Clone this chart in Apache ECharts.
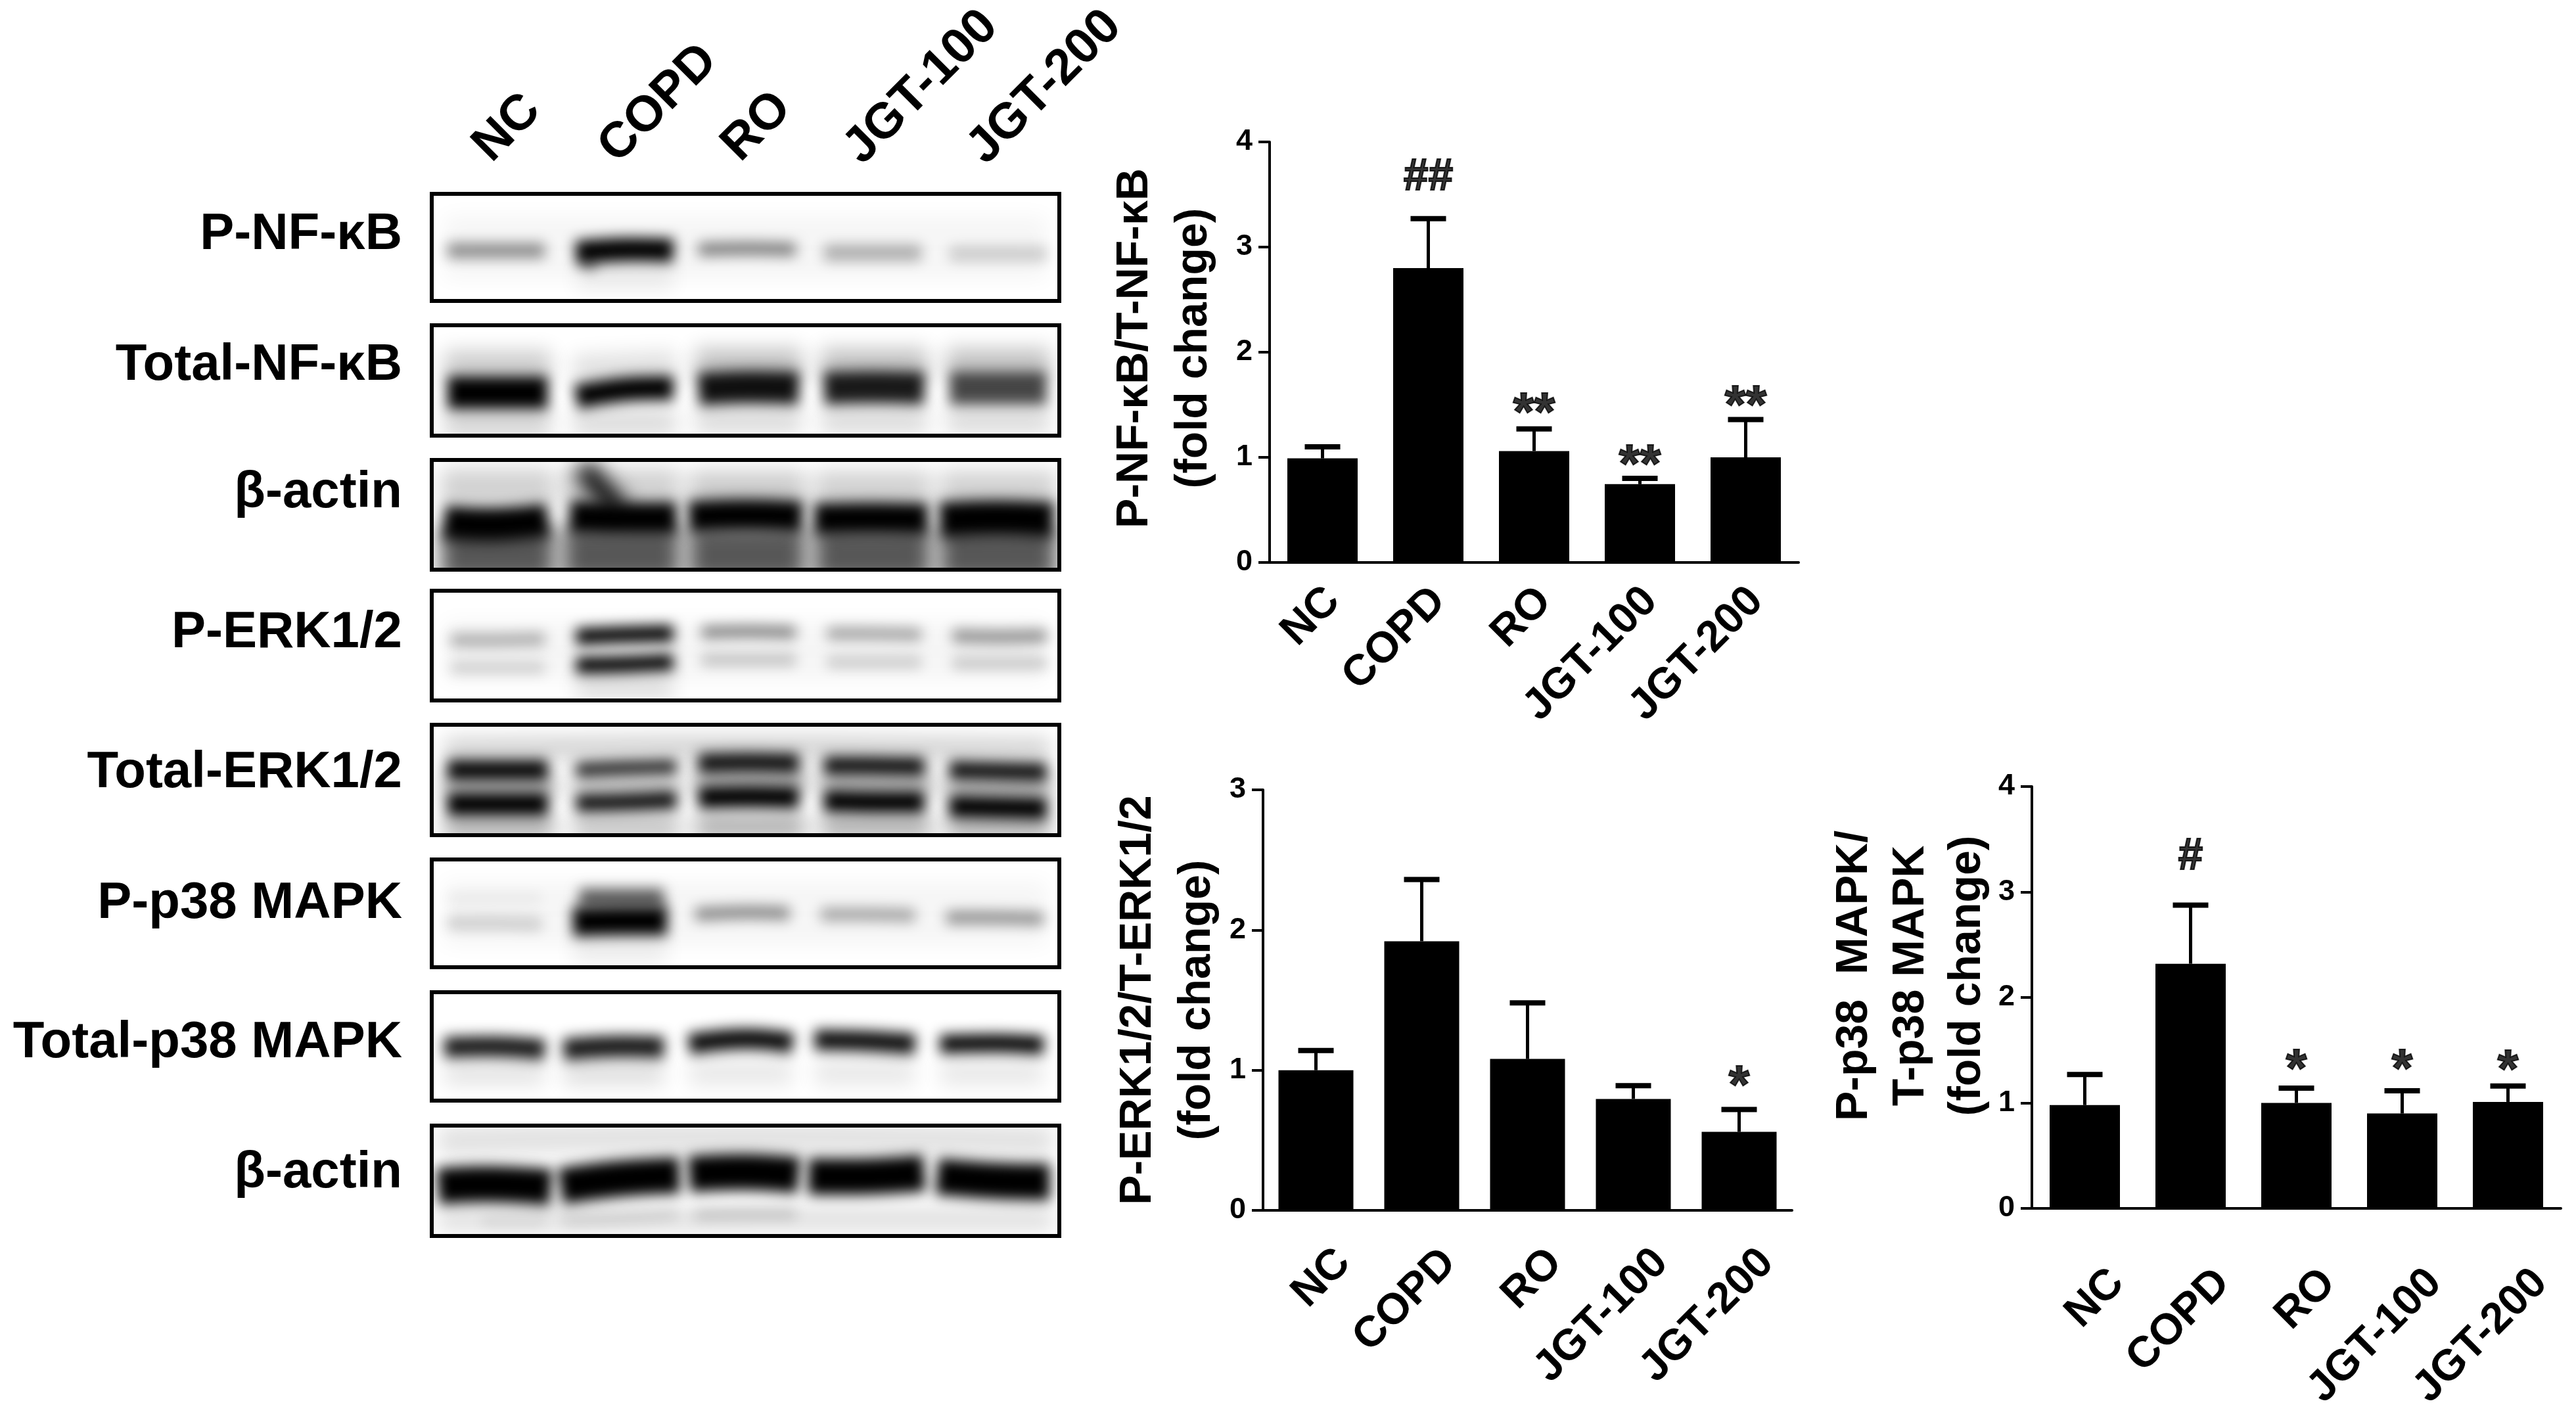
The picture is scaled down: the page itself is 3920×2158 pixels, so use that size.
<!DOCTYPE html>
<html>
<head>
<meta charset="utf-8">
<title>Western blot and fold change</title>
<style>
  html, body { margin: 0; padding: 0; background: #fff; }
  #main { width: 3920px; height: 2158px; }
</style>
<script src="https://cdn.jsdelivr.net/npm/echarts@6/dist/echarts.min.js"></script>
</head>
<body>
<div id="main"></div>
<script>
const groups = ['NC', 'COPD', 'RO', 'JGT-100', 'JGT-200'];

// bar charts: mean, top of the error bar, significance mark and its height
const nfkbMean = [0.99, 2.80, 1.06, 0.745, 1.00];
const nfkbTop = [1.10, 3.27, 1.27, 0.80, 1.36];
const nfkbMark = ['', '##', '**', '**', '**'];
const nfkbMarkY = [null, 3.66, 1.49, 1.00, 1.56];

const erkMean = [1.00, 1.92, 1.08, 0.795, 0.56];
const erkTop = [1.14, 2.36, 1.48, 0.89, 0.72];
const erkMark = ['', '', '', '', '*'];
const erkMarkY = [null, null, null, null, 0.94];

const p38Mean = [0.98, 2.32, 1.00, 0.90, 1.01];
const p38Top = [1.27, 2.875, 1.14, 1.115, 1.16];
const p38Mark = ['', '#', '*', '*', '*'];
const p38MarkY = [null, 3.33, 1.39, 1.39, 1.38];

// blot rows, bands are [density, thickness, x0, y0, x1, y1, x2, y2] on a 0-100 panel scale
const blotNames = ['P-NF-κB', 'Total-NF-κB', 'β-actin', 'P-ERK1/2', 'Total-ERK1/2', 'P-p38 MAPK', 'Total-p38 MAPK', 'β-actin'];

const bandsPNfkb = [
  [0.44, 14, 2.5, 53, 10, 53, 18, 53],
  [1.00, 22, 23, 55, 31, 52, 38.5, 53],
  [0.40, 12, 24, 60, 25, 64, 26, 68],
  [0.50, 12, 42.5, 52, 50, 51, 58, 52],
  [0.30, 15, 62.5, 55, 70, 55, 78, 55],
  [0.18, 14, 82.5, 56, 90, 56, 98, 56]
];
const hazePNfkb = [
  [0.07, 24, 23, 78, 31, 78, 38.5, 78],
  [0.04, 60, 2, 50, 50, 50, 98, 50]
];

const bandsTNfkb = [
  [1.00, 30, 2.5, 61, 10, 61, 18.5, 61],
  [1.00, 22, 23, 65, 31, 58, 38.5, 57],
  [0.94, 30, 42.5, 58, 50, 56, 58.5, 57],
  [0.90, 30, 62.5, 57, 70, 56, 78.5, 57],
  [0.72, 30, 82.5, 57, 90, 57, 98, 57]
];
const hazeTNfkb = [
  [0.20, 26, 2, 36, 10, 36, 19, 36], [0.12, 26, 22.5, 40, 31, 38, 39, 36],
  [0.24, 26, 42, 34, 50, 34, 59, 34], [0.24, 26, 62, 34, 70, 34, 79, 34], [0.24, 26, 82, 34, 90, 34, 98.5, 34],
  [0.18, 24, 2, 88, 10, 88, 19, 88], [0.14, 24, 22.5, 88, 31, 88, 39, 88],
  [0.14, 24, 42, 86, 50, 86, 59, 86], [0.14, 24, 62, 86, 70, 86, 79, 86], [0.14, 24, 82, 86, 90, 86, 98.5, 86]
];

const bandsActin1 = [
  [1.00, 31, 2, 57, 10, 59, 18.5, 55],
  [1.00, 30, 22, 52, 30, 53, 39, 53],
  [1.00, 29, 41, 52, 50, 50, 59, 52],
  [1.00, 29, 61, 54, 70, 53, 79, 54],
  [1.00, 33, 81, 55, 90, 53, 99, 55]
];
const hazeActin1 = [
  [0.66, 50, 1.5, 86, 10, 86, 19.5, 86], [0.66, 50, 21, 86, 30, 86, 39.5, 86],
  [0.66, 50, 41, 86, 50, 86, 59.5, 86], [0.66, 50, 61, 86, 70, 86, 79.5, 86], [0.66, 50, 81, 86, 90, 86, 99.5, 86],
  [0.18, 36, 1.5, 26, 10, 26, 19.5, 26], [0.18, 36, 21, 26, 30, 26, 39.5, 26],
  [0.20, 36, 41, 28, 50, 28, 59.5, 28], [0.18, 36, 61, 28, 70, 28, 79.5, 28], [0.18, 36, 81, 28, 90, 28, 99.5, 28],
  [0.95, 20, 24, 6, 26.5, 24, 30, 44]
];

const bandsPErk = [
  [0.30, 12, 3, 45, 10, 45, 18, 44],
  [0.17, 11, 3, 70, 10, 70, 18, 70],
  [1.00, 15, 23, 42, 31, 40, 38.5, 39],
  [1.00, 15, 23, 68, 31, 67, 38.5, 65],
  [0.48, 11, 43, 38, 50, 37, 58, 38],
  [0.24, 10, 43, 63, 50, 63, 58, 63],
  [0.36, 11, 63, 39, 70, 39, 78, 40],
  [0.20, 10, 63, 65, 70, 65, 78, 65],
  [0.42, 12, 83, 41, 90, 42, 98, 41],
  [0.22, 10, 83, 66, 90, 66, 98, 66]
];
const hazePErk = [
  [0.12, 24, 23, 88, 31, 88, 38.5, 88],
  [0.04, 55, 2, 55, 50, 55, 98, 55]
];

const bandsTErk = [
  [0.96, 19, 2.5, 41, 10, 41, 18.5, 41],
  [1.00, 21, 2.5, 72, 10, 72, 18.5, 72],
  [0.84, 13, 23, 41, 31, 39, 39, 38],
  [0.94, 16, 23, 71, 31, 70, 39, 68],
  [0.92, 18, 42.5, 35, 50, 34, 58.5, 35],
  [1.00, 20, 42.5, 66, 50, 65, 58.5, 66],
  [0.92, 17, 62.5, 37, 70, 37, 78.5, 38],
  [1.00, 20, 62.5, 69, 70, 70, 78.5, 70],
  [0.92, 17, 82.5, 41, 90, 42, 98, 43],
  [1.00, 20, 82.5, 74, 90, 75, 98, 76]
];
const hazeTErk = [
  [0.36, 20, 2, 56, 10, 56, 19.5, 56], [0.26, 20, 22.5, 55, 31, 55, 39.5, 55],
  [0.36, 20, 42, 50, 50, 50, 59.5, 50], [0.36, 20, 62, 53, 70, 53, 79.5, 53], [0.36, 20, 82, 58, 90, 58, 98.5, 58],
  [0.34, 20, 2, 92, 10, 92, 19.5, 92], [0.26, 20, 22.5, 92, 31, 92, 39.5, 92],
  [0.34, 20, 42, 92, 50, 92, 59.5, 92], [0.34, 20, 62, 92, 70, 92, 79.5, 92], [0.34, 20, 82, 92, 90, 92, 98.5, 92],
  [0.18, 20, 2, 22, 50, 20, 98.5, 22]
];

const bandsPP38 = [
  [0.18, 12, 2.5, 59, 10, 59, 17.5, 60],
  [0.06, 10, 2.5, 36, 10, 36, 17.5, 36],
  [1.00, 27, 22.5, 58, 30, 57, 37.5, 57],
  [0.62, 18, 23.5, 36, 30, 36, 37, 36],
  [0.46, 12, 42, 51, 50, 49, 57, 50],
  [0.34, 12, 62, 51, 70, 51, 77, 52],
  [0.42, 12, 82, 54, 90, 54, 97.5, 55]
];
const hazePP38 = [
  [0.08, 22, 22.5, 84, 30, 84, 37.5, 84],
  [0.04, 60, 2, 50, 50, 50, 98, 50]
];

const bandsTP38 = [
  [0.90, 19, 2, 51, 10, 50, 18, 53],
  [0.90, 20, 21, 53, 29, 50, 37, 51],
  [0.96, 19, 41, 48, 50, 43, 57.5, 47],
  [0.94, 19, 61, 44, 69, 45, 77, 48],
  [0.98, 17, 81, 48, 90, 47, 97.5, 49]
];
const hazeTP38 = [
  [0.10, 24, 2, 74, 10, 74, 18, 74], [0.12, 24, 21, 74, 29, 74, 37, 74],
  [0.09, 24, 41, 74, 50, 74, 57.5, 74], [0.09, 24, 61, 74, 69, 74, 77, 74], [0.09, 24, 81, 74, 90, 74, 97.5, 74]
];

const bandsActin2 = [
  [1.00, 33, 1, 55, 9, 53, 19, 56],
  [1.00, 33, 20.5, 55, 30, 48, 39.5, 45],
  [1.00, 33, 41, 44, 50, 42, 58.5, 45],
  [1.00, 33, 60, 46, 70, 46, 78.5, 43],
  [1.00, 33, 80.5, 46, 90, 50, 98.5, 51],
  [0.22, 7, 42, 81, 50, 80, 58, 80],
  [0.15, 7, 21, 86, 30, 84, 39, 80],
  [0.10, 7, 8, 87, 13, 87, 18, 87]
];
const hazeActin2 = [
  [0.12, 26, 1, 14, 50, 10, 99, 14],
  [0.12, 22, 1, 85, 50, 85, 99, 85]
];

const blotBands = [bandsPNfkb, bandsTNfkb, bandsActin1, bandsPErk, bandsTErk, bandsPP38, bandsTP38, bandsActin2];
const blotHaze = [hazePNfkb, hazeTNfkb, hazeActin1, hazePErk, hazeTErk, hazePP38, hazeTP38, hazeActin2];

// layout
const FONT = '"Liberation Sans", Arial, Helvetica, sans-serif';
const blotTops = [295, 495, 700, 899, 1103, 1308, 1510, 1713];
const blotBottoms = [458, 663, 867, 1066, 1271, 1472, 1675, 1881];
const blotLabelY = [357, 556, 750, 963, 1176, 1375, 1587, 1785];
const laneLabels = [[772, 195], [1002, 158], [1152, 193], [1402, 133], [1590, 133]];

const blur = (name, gridIndex, data, blurSize) => ({
  name,
  type: 'custom',
  xAxisIndex: gridIndex,
  yAxisIndex: gridIndex,
  coordinateSystem: 'cartesian2d',
  clip: true,
  silent: true,
  data,
  renderItem: (params, api) => {
    // the line itself sits off canvas, only its blurred shadow lands in the panel
    const off = 8000;
    const points = [2, 4, 6].map(i => {
      const p = api.coord([api.value(i), api.value(i + 1)]);
      return [p[0] - off, p[1]];
    });
    return {
      type: 'polyline',
      shape: { points, smooth: 0.4 },
      style: {
        fill: 'none',
        stroke: '#000',
        lineWidth: api.size([0, api.value(1)])[1],
        shadowBlur: blurSize,
        shadowOffsetX: off,
        shadowColor: `rgba(0,0,0,${api.value(0)})`
      }
    };
  }
});

const frame = gridIndex => ({
  type: 'custom',
  xAxisIndex: gridIndex,
  yAxisIndex: gridIndex,
  coordinateSystem: 'cartesian2d',
  clip: false,
  silent: true,
  z: 5,
  data: [[0, 0]],
  renderItem: (params, api) => {
    const a = api.coord([0, 0]);
    const b = api.coord([100, 100]);
    return {
      type: 'rect',
      shape: { x: a[0], y: a[1], width: b[0] - a[0], height: b[1] - a[1] },
      style: { fill: 'none', stroke: '#000', lineWidth: 6 }
    };
  }
});

const grids = [];
const xAxes = [];
const yAxes = [];
const series = [];

blotNames.forEach((name, i) => {
  grids.push({ left: 657, width: 955, top: blotTops[i], height: blotBottoms[i] - blotTops[i] });
  xAxes.push({ type: 'value', gridIndex: i, min: 0, max: 100, show: false });
  yAxes.push({ type: 'value', gridIndex: i, min: 0, max: 100, inverse: true, show: false });
  series.push(blur(name + ' haze', i, blotHaze[i], 30));
  series.push(blur(name, i, blotBands[i], 20));
  series.push(frame(i));
});

const barChart = cfg => {
  const i = grids.length;
  grids.push({ left: cfg.left, top: cfg.top, width: 805, height: cfg.height });
  xAxes.push({
    type: 'category',
    gridIndex: i,
    data: groups,
    axisLine: { lineStyle: { color: '#000', width: 4 } },
    axisTick: { alignWithLabel: true, length: 19, lineStyle: { color: '#000', width: 4 } },
    axisLabel: {
      interval: 0,
      rotate: 45,
      margin: cfg.labelMargin,
      padding: [0, -cfg.labelShift, 0, 0],
      fontFamily: FONT,
      fontWeight: 'bold',
      fontSize: 66,
      color: '#000'
    }
  });
  yAxes.push({
    type: 'value',
    gridIndex: i,
    min: 0,
    max: cfg.max,
    interval: 1,
    name: cfg.title,
    nameLocation: 'middle',
    nameRotate: 90,
    nameGap: cfg.nameGap,
    nameTextStyle: {
      fontFamily: FONT,
      fontWeight: 'bold',
      fontSize: 68,
      lineHeight: cfg.nameLine,
      color: '#000',
      padding: [0, 0, 0, cfg.namePad]
    },
    splitLine: { show: false },
    axisLine: { show: true, lineStyle: { color: '#000', width: 4 } },
    axisTick: { show: true, length: 17, lineStyle: { color: '#000', width: 4 } },
    axisLabel: { margin: 26, fontFamily: FONT, fontWeight: 'bold', fontSize: 45, color: '#000' }
  });
  series.push({
    type: 'bar',
    xAxisIndex: i,
    yAxisIndex: i,
    barWidth: cfg.barWidth,
    itemStyle: { color: '#000' },
    silent: true,
    data: cfg.mean
  });
  series.push({
    type: 'custom',
    xAxisIndex: i,
    yAxisIndex: i,
    silent: true,
    z: 1,
    data: cfg.mean.map((m, k) => [k, m, cfg.top_[k]]),
    renderItem: (params, api) => {
      const base = api.coord([api.value(0), api.value(1)]);
      const top = api.coord([api.value(0), api.value(2)]);
      return {
        type: 'group',
        children: [
          {
            type: 'line',
            shape: { x1: base[0], y1: base[1], x2: top[0], y2: top[1] },
            style: { stroke: '#000', lineWidth: 5 }
          },
          {
            type: 'line',
            shape: { x1: top[0] - 27, y1: top[1], x2: top[0] + 27, y2: top[1] },
            style: { stroke: '#000', lineWidth: 8 }
          }
        ]
      };
    }
  });
  series.push({
    type: 'scatter',
    xAxisIndex: i,
    yAxisIndex: i,
    symbolSize: 1,
    itemStyle: { color: 'rgba(0,0,0,0)' },
    silent: true,
    data: cfg.mark.map((m, k) => ({
      value: [k, cfg.markY[k]],
      label: {
        show: m !== '',
        position: 'inside',
        formatter: m,
        fontFamily: FONT,
        fontWeight: 'bold',
        fontSize: m.includes('#') ? 68 : 82,
        offset: [0, m.includes('#') ? 0 : 14],
        color: '#000',
        textBorderColor: '#000',
        textBorderWidth: 2
      }
    }))
  });
};

barChart({
  left: 1932, top: 216, height: 640, max: 4, barWidth: 107,
  mean: nfkbMean, top_: nfkbTop, mark: nfkbMark, markY: nfkbMarkY,
  title: 'P-NF-κB/T-NF-κB\n(fold change)', nameGap: 70, namePad: 12, nameLine: 90,
  labelMargin: 65, labelShift: 23
});
barChart({
  left: 1922, top: 1202, height: 640, max: 3, barWidth: 114,
  mean: erkMean, top_: erkTop, mark: erkMark, markY: erkMarkY,
  title: 'P-ERK1/2/T-ERK1/2\n(fold change)', nameGap: 51, namePad: 0, nameLine: 90,
  labelMargin: 112, labelShift: 60
});
barChart({
  left: 3092, top: 1197, height: 642, max: 4, barWidth: 107,
  mean: p38Mean, top_: p38Top, mark: p38Mark, markY: p38MarkY,
  title: 'P-p38  MAPK/\nT-p38 MAPK\n(fold change)', nameGap: 27, namePad: 66, nameLine: 86,
  labelMargin: 153, labelShift: 70
});

const graphic = [];
blotNames.forEach((name, i) => {
  graphic.push({
    type: 'text',
    x: 612,
    y: blotLabelY[i],
    style: { text: name, align: 'right', verticalAlign: 'middle', font: `bold 78px ${FONT}`, fill: '#000' }
  });
});
groups.forEach((name, i) => {
  graphic.push({
    type: 'text',
    x: laneLabels[i][0],
    y: laneLabels[i][1],
    rotation: Math.PI / 4,
    style: { text: name, align: 'center', verticalAlign: 'middle', font: `bold 76px ${FONT}`, fill: '#000' }
  });
});

const chart = echarts.init(document.getElementById('main'));
chart.setOption({
  animation: false,
  backgroundColor: '#fff',
  grid: grids,
  xAxis: xAxes,
  yAxis: yAxes,
  series,
  graphic
});
</script>
</body>
</html>
